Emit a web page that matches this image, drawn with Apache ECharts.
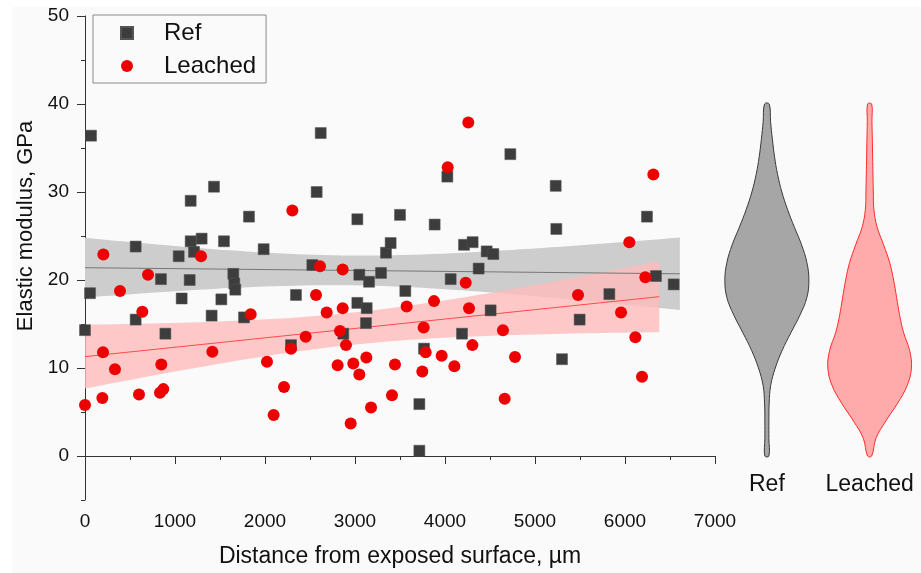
<!DOCTYPE html>
<html><head><meta charset="utf-8">
<script src="https://cdn.jsdelivr.net/npm/echarts@6/dist/echarts.min.js"></script>
<style>html,body{margin:0;padding:0;background:#fafafa}#c{width:921px;height:573px}</style>
</head><body><div id="c"></div>
<script>
// ---- data ----
const refX = [0,56,67,563,563,844,893,1041,1074,1163,1174,1174,1211,1296,1407,1433,1515,1544,1648,1659,1670,1767,1822,1985,2289,2344,2526,2574,2619,2870,3026,3026,3048,3122,3130,3156,3289,3344,3396,3500,3559,3715,3715,3767,3885,4026,4063,4189,4211,4307,4374,4463,4507,4537,4726,5230,5237,5300,5496,5826,6244,6344,6541];
const refY = [14.3,18.5,36.4,23.8,15.5,20.1,13.9,22.7,17.9,20.0,24.4,29.0,23.2,24.7,15.95,30.6,17.8,24.4,20.7,19.6,18.9,15.75,27.2,23.5,12.6,18.3,21.7,30.0,36.7,13.9,26.9,17.4,20.6,15.1,16.8,19.8,20.8,23.1,24.2,27.4,18.75,5.9,0.6,12.2,26.3,31.75,20.1,13.9,24.0,24.3,21.3,23.25,16.55,22.95,34.3,30.7,25.8,11.0,15.5,18.4,27.2,20.45,19.5];
const leachedX = [0,193,200,204,333,389,600,637,700,833,848,870,1289,1415,1841,2022,2096,2211,2289,2304,2452,2567,2611,2685,2807,2833,2863,2863,2900,2952,2981,3048,3126,3178,3411,3444,3574,3748,3763,3785,3878,3963,4030,4104,4230,4259,4267,4304,4644,4663,4778,5478,5956,6048,6115,6189,6226,6315];
const leachedY = [5.8,6.6,11.8,22.9,9.85,18.75,7.0,16.4,20.6,7.2,10.4,7.6,22.7,11.85,16.1,10.7,4.65,7.85,12.2,27.9,13.55,18.3,21.55,16.3,10.3,14.2,16.8,21.2,12.6,3.7,10.5,9.25,11.2,5.5,6.9,10.4,17.0,9.6,14.6,11.8,17.6,11.4,32.8,10.2,19.7,37.9,16.8,12.6,14.3,6.5,11.25,18.3,16.3,24.3,13.5,9.0,20.3,32.0];
const yTickValues = [0,10,20,30,40,50];
const violinCategories = ['Ref','Leached'];
const violinLevels = [0,2,4,6,8,10,12,14,16,18,20,22,24,26,28,30,32,34,36,38,40];
const refDensity = [0.048,0.048,0.048,0.055,0.09,0.2,0.364,0.571,0.786,0.952,1.0,0.952,0.826,0.655,0.493,0.357,0.255,0.183,0.131,0.088,0.055];
const leachedDensity = [0.048,0.15,0.388,0.667,0.893,0.995,0.952,0.81,0.714,0.643,0.571,0.476,0.333,0.179,0.102,0.088,0.079,0.071,0.064,0.055,0.048];

// ---- styling constants ----
const FONT = "'Liberation Sans', Arial, sans-serif";
const VIOLIN_HALF = 42;
const FIT_EXT = 1.0105;

function tQuantile975(df){
  const z = 1.959964;
  return z + (z*z*z + z)/(4*df) + (5*Math.pow(z,5) + 16*z*z*z + 3*z)/(96*df*df);
}
function linFit(xs, ys){
  const n = xs.length;
  let mx=0,my=0; for(let i=0;i<n;i++){mx+=xs[i];my+=ys[i];} mx/=n; my/=n;
  let sxx=0,sxy=0; for(let i=0;i<n;i++){sxx+=(xs[i]-mx)**2; sxy+=(xs[i]-mx)*(ys[i]-my);}
  const b = sxy/sxx, a = my - b*mx;
  let sse=0; for(let i=0;i<n;i++){sse+=(ys[i]-a-b*xs[i])**2;}
  const s = Math.sqrt(sse/(n-2));
  return {a,b,s,n,mx,sxx,t:tQuantile975(n-2),x0:Math.min(...xs),x1:Math.max(...xs)*FIT_EXT};
}
const refFit = linFit(refX, refY);
const leachedFit = linFit(leachedX, leachedY);

function bandSeries(name, f, color, z){
  return {
    name, type:'custom', xAxisIndex:0, yAxisIndex:0, silent:true, z,
    data:[[f.x0, f.a]],
    renderItem:(params, api)=>{
      const N=60, up=[], lo=[];
      for(let i=0;i<=N;i++){
        const x = f.x0 + (f.x1-f.x0)*i/N;
        const yh = f.a + f.b*x;
        const h = f.t*f.s*Math.sqrt(1/f.n + (x-f.mx)**2/f.sxx);
        up.push(api.coord([x, yh+h]));
        lo.push(api.coord([x, yh-h]));
      }
      return {type:'polygon', shape:{points: up.concat(lo.reverse())}, style:{fill:color}};
    }
  };
}
function fitLine(name, f, color, z){
  return {name, type:'line', xAxisIndex:0, yAxisIndex:0, silent:true, z, symbol:'none',
    data:[[f.x0, f.a + f.b*f.x0],[f.x1, f.a + f.b*f.x1]],
    lineStyle:{color, width:1}};
}
const violinStyles = [
  {fill:'#a6a6a6', stroke:'#3a3a3a'},
  {fill:'#ffabab', stroke:'#ff2a2a'}
];

const chart = echarts.init(document.getElementById('c'), null, {renderer:'canvas'});
chart.setOption({
  animation:false,
  backgroundColor:'#fafafa',
  textStyle:{fontFamily:FONT},
  graphic:[
    {type:'rect', left:0, top:0, shape:{width:12, height:573}, style:{fill:'#ffffff'}, z:-10, silent:true},
    {type:'rect', left:0, top:0, shape:{width:921, height:7}, style:{fill:'#ffffff'}, z:-10, silent:true}
  ],
  legend:{
    data:[{name:'Ref', icon:'rect'},{name:'Leached', icon:'circle'}], orient:'vertical', left:93, top:15,
    padding:[4,10,3,27], itemWidth:12, itemHeight:12, itemGap:5,
    borderColor:'#8a8a8a', borderWidth:1, selectedMode:false,
    textStyle:{fontSize:24, lineHeight:28, color:'#111', fontFamily:FONT, padding:[0,0,0,26]}
  },
  grid:[
    {left:85, top:16, width:630, height:484},
    {left:715.5, top:16, width:210, height:484}
  ],
  xAxis:[
    {type:'value', gridIndex:0, min:0, max:7000, interval:1000,
     name:'Distance from exposed surface, µm', nameLocation:'middle', nameGap:45,
     nameTextStyle:{fontSize:23, color:'#111', fontFamily:FONT},
     axisLine:{lineStyle:{color:'#333', width:1}},
     axisTick:{length:8, lineStyle:{color:'#333'}},
     minorTick:{show:true, splitNumber:2, length:4, lineStyle:{color:'#333'}},
     splitLine:{show:false},
     axisLabel:{fontSize:19, color:'#111', margin:12, fontFamily:FONT, formatter:(v)=>String(v)}},
    {type:'category', gridIndex:1, data:violinCategories, offset:-35,
     axisLine:{show:false}, axisTick:{show:false}, splitLine:{show:false},
     axisLabel:{fontSize:23, color:'#111', margin:8, interval:0, fontFamily:FONT}}
  ],
  yAxis:[
    {type:'value', gridIndex:0, min:-5, max:50, position:'left',
     name:'Elastic modulus, GPa', nameLocation:'middle', nameGap:48, nameRotate:90,
     nameTextStyle:{fontSize:22, color:'#111', fontFamily:FONT, padding:[0,0,0,64]},
     axisLine:{show:true, lineStyle:{color:'#333', width:1}},
     axisTick:{show:true, length:8, customValues:yTickValues, lineStyle:{color:'#333'}},
     axisLabel:{fontSize:19, color:'#111', margin:16, customValues:yTickValues, fontFamily:FONT},
     splitLine:{show:false}},
    {type:'value', gridIndex:0, min:-5, max:50, interval:5, position:'left',
     axisLine:{show:false}, axisLabel:{show:false}, splitLine:{show:false},
     axisTick:{show:true, length:4, lineStyle:{color:'#333'}}},
    {type:'value', gridIndex:1, min:-5, max:50, show:false}
  ],
  series:[
    bandSeries('Ref band', refFit, '#cdcdcd', 1),
    bandSeries('Leached band', leachedFit, 'rgba(255,188,188,0.8)', 1),
    fitLine('Ref fit', refFit, '#777777', 2),
    fitLine('Leached fit', leachedFit, '#ff4a4a', 2),
    {name:'Ref', type:'scatter', xAxisIndex:0, yAxisIndex:0, symbol:'rect', symbolSize:11, z:3,
     itemStyle:{color:'#3d3d3d', borderColor:'#555', borderWidth:0.5, opacity:1},
     data: refX.map((x,i)=>[x, refY[i]])},
    {name:'Leached', type:'scatter', xAxisIndex:0, yAxisIndex:0, symbol:'circle', symbolSize:12, z:4,
     itemStyle:{color:'#ee0000', opacity:1},
     data: leachedX.map((x,i)=>[x, leachedY[i]])},
    {name:'violins', type:'custom', xAxisIndex:1, yAxisIndex:2, silent:true, z:2,
     data: violinCategories.map((c,i)=>[i, 0]),
     renderItem:(params, api)=>{
       const i = params.dataIndex;
       const dens = i===0 ? refDensity : leachedDensity;
       const cx = api.coord([i, 0])[0];
       const right=[], left=[];
       violinLevels.forEach((lv,k)=>{
         const y = api.coord([i, lv])[1];
         right.push([cx + dens[k]*VIOLIN_HALF, y]);
         left.push([cx - dens[k]*VIOLIN_HALF, y]);
       });
       return {type:'polygon', shape:{points: right.concat(left.reverse()), smooth:0.4},
               style:{fill:violinStyles[i].fill, stroke:violinStyles[i].stroke, lineWidth:1}};
     }}
  ]
});
</script>
</body></html>
